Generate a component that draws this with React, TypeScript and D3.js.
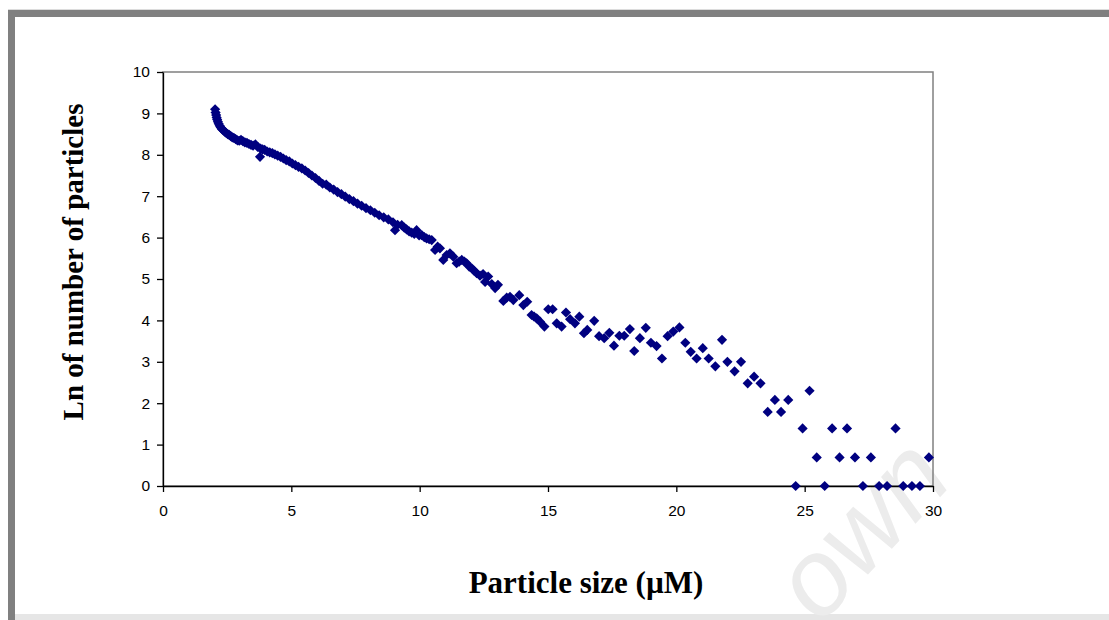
import React, { useEffect, useRef } from "react";
import * as d3 from "d3";

// particle size (µM) and ln(count)
const sizes = [
  2.03, 2.05, 2.07, 2.09, 2.11, 2.14, 2.17, 2.21, 2.25, 2.3, 2.35, 2.4, 2.46, 2.52, 2.58,
  2.64, 2.7, 2.76, 2.83, 2.9, 2.97, 3.04, 3.11, 3.19, 3.27, 3.35, 3.43, 3.51, 3.6, 3.69,
  3.78, 3.8, 3.88, 3.96, 4.06, 4.16, 4.26, 4.36, 4.47, 4.58, 4.69, 4.8, 4.92, 5.04, 5.16,
  5.28, 5.41, 5.54, 5.67, 5.8, 5.94, 6.08, 6.22, 6.36, 6.5, 6.65, 6.8, 6.95, 7.1, 7.26,
  7.42, 7.58, 7.74, 7.91, 8.08, 8.25, 8.42, 8.6, 8.78, 8.96, 9.04, 9.14, 9.3, 9.4, 9.49,
  9.59, 9.69, 9.79, 9.88, 9.98, 10.08, 10.18, 10.27, 10.37, 10.47, 10.6, 10.7, 10.79, 10.92, 11.05,
  11.18, 11.31, 11.44, 11.54, 11.64, 11.74, 11.83, 11.93, 12.03, 12.12, 12.22, 12.35, 12.47, 12.55, 12.67,
  12.81, 12.94, 13.05, 13.26, 13.39, 13.52, 13.65, 13.88, 14.04, 14.19, 14.36, 14.46, 14.56, 14.69, 14.86,
  15.01, 15.18, 15.34, 15.53, 15.7, 15.86, 16.05, 16.22, 16.4, 16.53, 16.8, 16.99, 17.19, 17.39, 17.57,
  17.78, 17.97, 18.19, 18.36, 18.58, 18.81, 19.01, 19.23, 19.44, 19.66, 19.88, 20.12, 20.35, 20.56, 20.79,
  21.03, 21.26, 21.52, 21.78, 21.99, 22.27, 22.52, 22.78, 23.03, 23.28, 23.56, 23.84, 24.08, 24.36, 24.65,
  24.92, 25.19, 25.47, 25.78, 26.07, 26.36, 26.65, 26.96, 27.27, 27.58, 27.9, 28.21, 28.54, 28.84, 29.18,
  29.49, 29.84,
];

const lnCounts = [
  9.1, 9.02, 8.96, 8.9, 8.85, 8.8, 8.75, 8.7, 8.66, 8.62, 8.59, 8.56, 8.53, 8.5, 8.48,
  8.45, 8.42, 8.41, 8.38, 8.35, 8.34, 8.36, 8.33, 8.3, 8.29, 8.26, 8.24, 8.22, 8.25, 8.19,
  7.95, 8.15, 8.13, 8.12, 8.08, 8.06, 8.04, 8.01, 7.98, 7.95, 7.91, 7.87, 7.84, 7.79, 7.75,
  7.71, 7.67, 7.62, 7.56, 7.5, 7.44, 7.37, 7.3, 7.28, 7.21, 7.16, 7.1, 7.05, 6.99, 6.93,
  6.88, 6.82, 6.77, 6.71, 6.66, 6.6, 6.54, 6.49, 6.44, 6.37, 6.18, 6.31, 6.3, 6.24, 6.2,
  6.15, 6.12, 6.09, 6.18, 6.05, 6.06, 6.01, 5.98, 5.96, 5.94, 5.7, 5.78, 5.74, 5.46, 5.58,
  5.62, 5.54, 5.38, 5.42, 5.46, 5.42, 5.38, 5.3, 5.26, 5.2, 5.14, 5.08, 5.12, 4.93, 5.06,
  4.88, 4.78, 4.86, 4.47, 4.55, 4.57, 4.49, 4.61, 4.37, 4.45, 4.13, 4.09, 4.05, 3.97, 3.85,
  4.27, 4.27, 3.93, 3.85, 4.19, 4.03, 3.93, 4.09, 3.69, 3.77, 3.99, 3.62, 3.57, 3.7, 3.39,
  3.63, 3.63, 3.79, 3.26, 3.57, 3.82, 3.46, 3.38, 3.08, 3.62, 3.73, 3.83, 3.46, 3.24, 3.08,
  3.33, 3.08, 2.89, 3.53, 3.0, 2.77, 3.0, 2.48, 2.64, 2.48, 1.79, 2.08, 1.79, 2.08, 0,
  1.39, 2.3, 0.69, 0, 1.39, 0.69, 1.39, 0.69, 0, 0.69, 0, 0, 1.39, 0, 0,
  0, 0.69,
];

const xTicks = [0, 5, 10, 15, 20, 25, 30];
const yTicks = [0, 1, 2, 3, 4, 5, 6, 7, 8, 9, 10];
const xTitle = "Particle size (µM)";
const yTitle = "Ln of number of particles";

const W = 1109;
const H = 620;

export default function App() {
  const ref = useRef<SVGSVGElement>(null);

  useEffect(() => {
    const svg = d3.select(ref.current);
    svg.selectAll("*").remove();

    const plot = { left: 163, right: 933, top: 72, bottom: 486 };

    // page background + grey frame
    svg.append("rect").attr("width", W).attr("height", H).attr("fill", "#fff");
    svg.append("rect").attr("x", 8).attr("y", 9).attr("width", W - 8).attr("height", 1).attr("fill", "#dcdcdc");
    svg.append("rect").attr("x", 8).attr("y", 10).attr("width", W - 8).attr("height", 7).attr("fill", "#808080");
    svg.append("rect").attr("x", 8).attr("y", 10).attr("width", 7).attr("height", H - 10).attr("fill", "#808080");
    svg.append("rect").attr("x", 15).attr("y", 614).attr("width", W - 15).attr("height", 6).attr("fill", "#e6e6e6");

    // faint watermark (only the tail of it is visible)
    svg.append("text")
      .attr("transform", "translate(820,626) rotate(-47)")
      .attr("font-family", "Liberation Sans, Arial, sans-serif")
      .attr("font-style", "italic")
      .attr("font-size", 108)
      .attr("fill", "#ececec")
      .text("own");

    const x = d3.scaleLinear().domain([0, 30]).range([plot.left, plot.right]);
    const y = d3.scaleLinear().domain([0, 10]).range([plot.bottom, plot.top]);

    // plot area border (grey), axes drawn on top in black
    svg.append("rect")
      .attr("x", plot.left)
      .attr("y", plot.top)
      .attr("width", plot.right - plot.left)
      .attr("height", plot.bottom - plot.top)
      .attr("fill", "none")
      .attr("stroke", "#808080")
      .attr("stroke-width", 1.5);

    const xAxis = svg.append("g")
      .attr("transform", `translate(0,${plot.bottom})`)
      .call(d3.axisBottom(x).tickValues(xTicks).tickSize(6).tickSizeOuter(0).tickPadding(13));
    const yAxis = svg.append("g")
      .attr("transform", `translate(${plot.left},0)`)
      .call(d3.axisLeft(y).tickValues(yTicks).tickSize(6).tickSizeOuter(0).tickPadding(7));

    [xAxis, yAxis].forEach((g) => {
      g.selectAll("path, line").attr("stroke", "#000").attr("stroke-width", 1.3);
      g.selectAll("text")
        .attr("font-family", "Liberation Sans, Arial, sans-serif")
        .attr("font-size", 15.5)
        .attr("fill", "#000");
    });

    // data points as navy diamonds
    const data = sizes.map((s, i) => ({ s, v: lnCounts[i] }));
    const diamond = d3.symbol().type(d3.symbolDiamond2).size(66);
    svg.append("g")
      .selectAll("path")
      .data(data)
      .enter()
      .append("path")
      .attr("transform", (d) => `translate(${x(d.s)},${y(d.v)})`)
      .attr("d", diamond)
      .attr("fill", "#000080");

    // axis titles
    svg.append("text")
      .attr("x", 586)
      .attr("y", 593)
      .attr("text-anchor", "middle")
      .attr("font-family", "Liberation Serif, Times New Roman, serif")
      .attr("font-weight", "bold")
      .attr("font-size", 31)
      .text(xTitle);

    svg.append("text")
      .attr("transform", "translate(83,262) rotate(-90)")
      .attr("text-anchor", "middle")
      .attr("font-family", "Liberation Serif, Times New Roman, serif")
      .attr("font-weight", "bold")
      .attr("font-size", 29)
      .text(yTitle);
  }, []);

  return (
    <svg
      ref={ref}
      width={W}
      height={H}
      style={{ position: "absolute", left: 0, top: 0, display: "block" }}
    />
  );
}
